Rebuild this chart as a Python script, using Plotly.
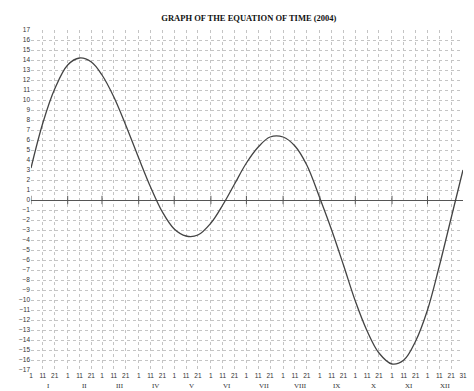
import plotly.graph_objects as go

# Day-of-year (2004, leap year) for the 1st, 11th, 21st of each month plus Dec 31
days = [1, 11, 21, 32, 42, 52, 61, 71, 81, 92, 102, 112, 122, 132, 142,
        153, 163, 173, 183, 193, 203, 214, 224, 234, 245, 255, 265,
        275, 285, 295, 306, 316, 326, 336, 346, 356, 366]
# Equation of time values (minutes)
eot = [3.2, 7.7, 11.1, 13.5, 14.2, 13.8, 12.5, 10.3, 7.5, 4.2, 1.3, -1.2,
       -2.9, -3.6, -3.5, -2.3, -0.5, 1.6, 3.7, 5.3, 6.3, 6.3, 5.4, 3.5,
       0.2, -3.0, -6.5, -10.1, -13.1, -15.3, -16.4, -16.0, -14.1, -11.0,
       -6.6, -1.8, 3.0]

tick_days = days
tick_text = ["1", "11", "21"] * 12 + ["31"]
month_starts = [1, 32, 61, 92, 122, 153, 183, 214, 245, 275, 306, 336]
month_mid = [16, 46, 76, 106, 137, 167, 198, 229, 259, 290, 320, 351]
month_names = ["I", "II", "III", "IV", "V", "VI", "VII", "VIII", "IX", "X", "XI", "XII"]
y_ticks = list(range(-17, 18))

fig = go.Figure()
fig.add_trace(go.Scatter(x=days, y=eot, mode="lines",
                         line=dict(color="#444444", width=1.3, shape="spline", smoothing=1.0),
                         hoverinfo="skip", showlegend=False))
fig.add_trace(go.Scatter(x=month_starts, y=[0] * len(month_starts), mode="markers",
                         marker=dict(symbol="line-ns-open", size=6, color="#555555",
                                     line=dict(color="#555555", width=1)),
                         hoverinfo="skip", showlegend=False))

for xm, name in zip(month_mid, month_names):
    fig.add_annotation(x=xm, y=0, xref="x", yref="paper", text=name,
                       showarrow=False, yshift=-10, yanchor="top",
                       font=dict(family="Liberation Serif, Times New Roman, serif",
                                 size=7, color="#333333"))

fig.update_layout(
    width=474, height=391,
    margin=dict(l=31, r=7, t=30, b=21),
    paper_bgcolor="white", plot_bgcolor="white",
    title=dict(text="<b>GRAPH OF THE EQUATION OF TIME (2004)</b>",
               x=0.525, xanchor="center", y=0.955, yanchor="middle",
               font=dict(family="Liberation Serif, Times New Roman, serif",
                         size=8.5, color="#111111")),
    xaxis=dict(range=[1, 366], tickvals=tick_days, ticktext=tick_text,
               showgrid=True, gridcolor="#c4c4c4", griddash="3px,3px", gridwidth=1,
               zeroline=False, showline=False, ticks="", ticklen=0,
               tickfont=dict(family="Liberation Sans, Arial, sans-serif", size=6.5, color="#333333")),
    yaxis=dict(range=[-17, 17], tickvals=y_ticks,
               showgrid=True, gridcolor="#c4c4c4", griddash="3px,3px", gridwidth=1,
               zeroline=True, zerolinecolor="#555555", zerolinewidth=1.3,
               showline=False, ticks="",
               tickfont=dict(family="Liberation Sans, Arial, sans-serif", size=6.5, color="#333333")),
)

fig.write_html("out.html")
